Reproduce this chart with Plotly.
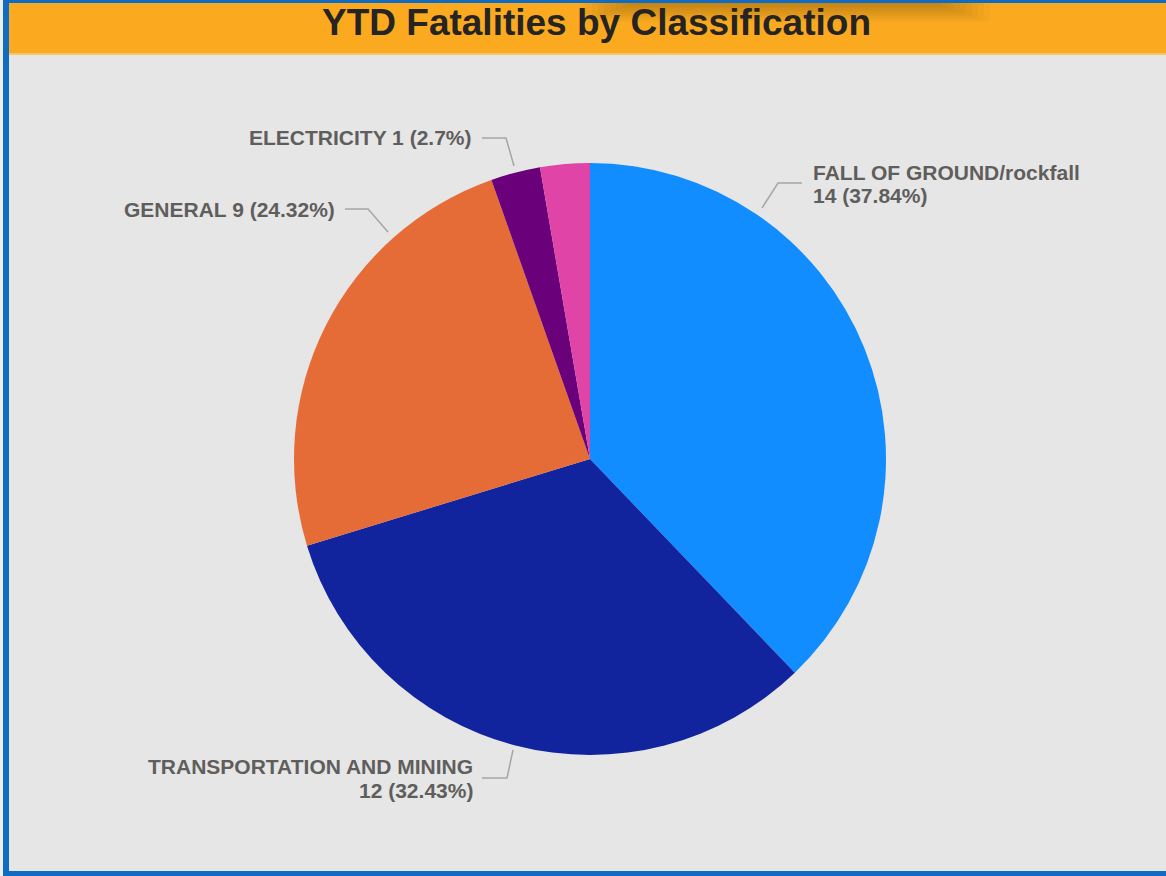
import plotly.graph_objects as go

# ---- data ----
categories = ["FALL OF GROUND/rockfall", "TRANSPORTATION AND MINING", "GENERAL", "ELECTRICITY", "OTHER"]
values = [14, 12, 9, 1, 1]
colors = ["#118DFF", "#12239E", "#E66C37", "#6B007B", "#E044A7"]
title_text = "YTD Fatalities by Classification"

W, H = 1166, 876
def px(x):
    return x / W
def py(y):
    return 1 - y / H

total = sum(values)
def pct(v):
    p = round(v / total * 100, 2)
    return f"{p:g}"

fig = go.Figure()
fig.add_trace(go.Pie(
    labels=categories, values=values, sort=False, direction="clockwise", rotation=0,
    marker=dict(colors=colors, line=dict(width=0)),
    textinfo="none", hoverinfo="label+value+percent", showlegend=False,
    domain=dict(x=[px(294), px(886)], y=[py(755), py(163)]),
))

GRAY = "#A6A6A6"
TXT = "#605E5C"
FONT = "Liberation Sans, Arial, sans-serif"
BLUE = "#0F6CC2"

shapes = [
    # orange title bar
    dict(type="rect", xref="paper", yref="paper", x0=px(9), x1=1, y0=py(53), y1=py(3),
         fillcolor="#FBAA1F", line=dict(width=0), layer="below"),
    dict(type="rect", xref="paper", yref="paper", x0=px(9), x1=1, y0=py(55), y1=py(53),
         fillcolor="#F6C46A", line=dict(width=0), layer="below"),
]
# soft shadow over the title bar (stacked translucent layers)
for k in range(10):
    x0 = 580 + k * 6
    x1 = 990 - k * 6
    y1 = 22 - k * 2
    shapes.append(dict(type="rect", xref="paper", yref="paper", x0=px(x0), x1=px(x1),
                       y0=py(y1), y1=py(0), fillcolor="black", opacity=0.022,
                       line=dict(width=0), layer="below"))
shapes += [
    # blue frame
    dict(type="rect", xref="paper", yref="paper", x0=0, x1=px(3), y0=0, y1=1,
         fillcolor="#EEEEEE", line=dict(width=0)),
    dict(type="rect", xref="paper", yref="paper", x0=px(3), x1=px(9), y0=0, y1=py(1),
         fillcolor=BLUE, line=dict(width=0)),
    dict(type="rect", xref="paper", yref="paper", x0=px(3), x1=1, y0=py(3), y1=1,
         fillcolor=BLUE, line=dict(width=0)),
    dict(type="rect", xref="paper", yref="paper", x0=px(3), x1=1, y0=0, y1=py(871),
         fillcolor=BLUE, line=dict(width=0)),
]

# leader lines (layout positions of labels)
leaders = [
    [(762, 208), (778, 183), (802, 183)],
    [(513, 750), (507, 778), (482, 778)],
    [(388, 232), (368, 209), (345, 209)],
    [(514, 166), (506, 138), (482, 138)],
]
for pts in leaders:
    path = "M " + " L ".join(f"{px(x)},{py(y)}" for x, y in pts)
    shapes.append(dict(type="path", xref="paper", yref="paper", path=path,
                       line=dict(color=GRAY, width=1.5)))

annotations = [
    dict(text=title_text, x=px(596), y=py(23), xref="paper", yref="paper",
         showarrow=False, xanchor="center", yanchor="middle",
         font=dict(family=FONT, size=37, color="#252423", weight="bold")),
]

def add_label(t, x, y, xa):
    annotations.append(dict(text=t, x=px(x), y=py(y), xref="paper", yref="paper",
                            showarrow=False, xanchor=xa, yanchor="middle",
                            font=dict(family=FONT, size=21, color=TXT, weight="bold")))

# FALL OF GROUND (two lines, left aligned)
add_label(categories[0], 811, 172, "left")
add_label(f"{values[0]} ({pct(values[0])}%)", 811, 196, "left")
# TRANSPORTATION (two lines, right aligned)
add_label(categories[1], 475, 766, "right")
add_label(f"{values[1]} ({pct(values[1])}%)", 475, 790, "right")
# GENERAL, ELECTRICITY
add_label(f"{categories[2]} {values[2]} ({pct(values[2])}%)", 337, 210, "right")
add_label(f"{categories[3]} {values[3]} ({pct(values[3])}%)", 474, 137, "right")

fig.update_layout(
    width=W, height=H, margin=dict(l=0, r=0, t=0, b=0),
    paper_bgcolor="#E6E6E6", plot_bgcolor="#E6E6E6",
    shapes=shapes, annotations=annotations,
)
fig.write_html("out.html", config={"displayModeBar": False},
               post_script="document.body.style.margin='0';document.body.style.overflow='hidden';")
